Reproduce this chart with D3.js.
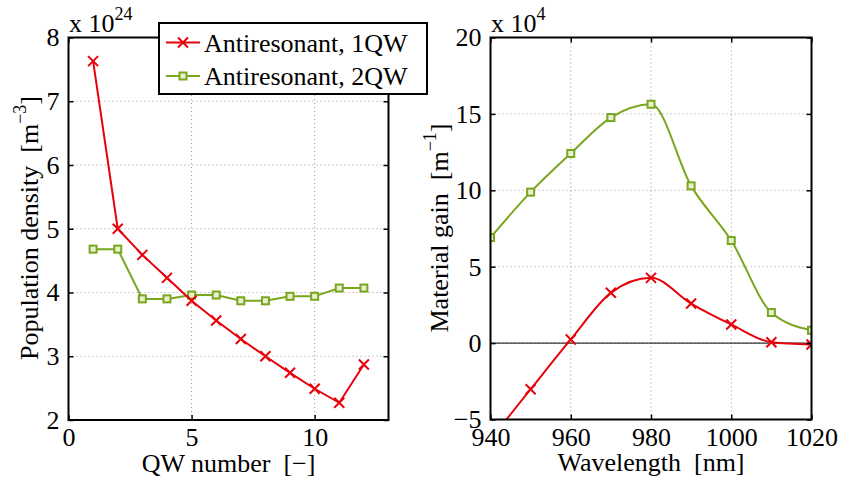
<!DOCTYPE html>
<html>
<head>
<meta charset="utf-8">
<script src="https://cdn.jsdelivr.net/npm/d3@7"></script>
<style>
  body { margin: 0; background: #fff; }
  svg { display: block; font-family: "Liberation Serif", "Times New Roman", serif; }
  svg text { white-space: pre; }
</style>
</head>
<body>
<div id="vis"></div>
<script>
// ── DATA ──────────────────────────────────────────────────────────────────────
const qwNumber     = [1, 2, 3, 4, 5, 6, 7, 8, 9, 10, 11, 12];
const density1QW   = [7.63, 5.00, 4.59, 4.23, 3.87, 3.56, 3.27, 3.00, 2.74, 2.49, 2.27, 2.87];
const density2QW   = [4.68, 4.68, 3.90, 3.90, 3.96, 3.96, 3.87, 3.87, 3.94, 3.94, 4.07, 4.07];

const wavelength   = [940, 950, 960, 970, 980, 990, 1000, 1010, 1020];
const gain1QW      = [-6.3, -3.02, 0.24, 3.29, 4.27, 2.59, 1.22, 0.06, -0.09];
const gain2QW      = [6.91, 9.88, 12.41, 14.76, 15.63, 10.29, 6.71, 2.00, 0.84];

const leftXTicks   = [0, 5, 10];
const leftYTicks   = [2, 3, 4, 5, 6, 7, 8];
const rightXTicks  = [940, 960, 980, 1000, 1020];
const rightYTicks  = [-5, 0, 5, 10, 15, 20];

const seriesNames  = ["Antiresonant, 1QW", "Antiresonant, 2QW"];

// ── STYLE ─────────────────────────────────────────────────────────────────────
const width    = 842;
const height   = 482;
const red      = "#e8000b";
const green    = "#7aa61e";
const fontSize = 26;
const serif    = "Liberation Serif";

const svg = d3.select("#vis").append("svg")
    .attr("width", width)
    .attr("height", height)
    .attr("font-family", serif);

// ── PANEL HELPER ──────────────────────────────────────────────────────────────
function panel(x, y, xTicks, yTicks, id) {
  const [x0, x1] = x.range();
  const [y0, y1] = y.range();
  const g = svg.append("g");

  g.append("clipPath").attr("id", id)
    .append("rect")
    .attr("x", x0).attr("y", y1)
    .attr("width", x1 - x0).attr("height", y0 - y1);

  // dotted grid
  const grid = g.append("g")
    .attr("stroke", "#999")
    .attr("stroke-width", 1)
    .attr("stroke-dasharray", "1,3");
  grid.selectAll(".gx").data(xTicks.filter(t => x(t) > x0 + 1 && x(t) < x1 - 1)).join("line")
    .attr("x1", d => x(d)).attr("x2", d => x(d))
    .attr("y1", y0).attr("y2", y1);
  grid.selectAll(".gy").data(yTicks.filter(t => y(t) < y0 - 1 && y(t) > y1 + 1)).join("line")
    .attr("x1", x0).attr("x2", x1)
    .attr("y1", d => y(d)).attr("y2", d => y(d));

  return g;
}

function styleAxis(a) {
  a.attr("font-family", serif);
  a.select(".domain").remove();
  a.selectAll("text").attr("font-size", fontSize).attr("font-family", serif).attr("fill", "#000");
  a.selectAll("line").attr("stroke", "#000").attr("stroke-width", 1.5);
}

function frame(g, x, y, xTicks, yTicks) {
  const [x0, x1] = x.range();
  const [y0, y1] = y.range();
  const tick = 5;

  // axes with inward ticks, MATLAB style
  g.append("g").attr("transform", `translate(0,${y0})`)
    .call(d3.axisBottom(x).tickValues(xTicks).tickSize(-tick).tickPadding(8).tickFormat(d3.format("d")))
    .call(styleAxis);
  g.append("g").attr("transform", `translate(0,${y1})`)
    .call(d3.axisTop(x).tickValues(xTicks).tickSize(-tick).tickFormat(""))
    .call(styleAxis);
  g.append("g").attr("transform", `translate(${x0},0)`)
    .call(d3.axisLeft(y).tickValues(yTicks).tickSize(-tick).tickPadding(tick + 4).tickFormat(d => d < 0 ? "\u2212" + Math.abs(d) : d))
    .call(styleAxis);
  g.append("g").attr("transform", `translate(${x1},0)`)
    .call(d3.axisRight(y).tickValues(yTicks).tickSize(-tick).tickFormat(""))
    .call(styleAxis);

  g.append("rect")
    .attr("x", x0).attr("y", y1)
    .attr("width", x1 - x0).attr("height", y0 - y1)
    .attr("fill", "none")
    .attr("stroke", "#000")
    .attr("stroke-width", 2);
}

function crossMarks(g, pts, color) {
  const s = 5;
  g.append("g").attr("stroke", color).attr("stroke-width", 2)
    .selectAll("path").data(pts).join("path")
    .attr("d", ([px, py]) => `M${px - s},${py - s}L${px + s},${py + s}M${px - s},${py + s}L${px + s},${py - s}`);
}

function squareMarks(g, pts, color) {
  const s = 3.5;
  g.append("g").attr("stroke", color).attr("stroke-width", 2).attr("fill", "#e8f0d4")
    .selectAll("rect").data(pts).join("rect")
    .attr("x", ([px]) => px - s).attr("y", ([, py]) => py - s)
    .attr("width", 2 * s).attr("height", 2 * s);
}

function exponent(g, x, y, text, sup) {
  const t = g.append("text")
    .attr("x", x).attr("y", y)
    .attr("font-size", fontSize);
  t.append("tspan").text(text);
  t.append("tspan").attr("font-size", 18).attr("dy", -12).text(sup);
}

// ── LEFT PANEL ────────────────────────────────────────────────────────────────
const xL = d3.scaleLinear([0, 13], [68.5, 388.5]);
const yL = d3.scaleLinear([2, 8], [420, 37.5]);
const gL = panel(xL, yL, leftXTicks, leftYTicks, "clipL");

const lineL = d3.line().x(d => xL(d[0])).y(d => yL(d[1]));
const pts1 = qwNumber.map((q, i) => [q, density1QW[i]]);
const pts2 = qwNumber.map((q, i) => [q, density2QW[i]]);

gL.append("path").datum(pts2)
  .attr("d", lineL).attr("fill", "none").attr("stroke", green).attr("stroke-width", 2);
squareMarks(gL, pts2.map(d => [xL(d[0]), yL(d[1])]), green);
gL.append("path").datum(pts1)
  .attr("d", lineL).attr("fill", "none").attr("stroke", red).attr("stroke-width", 2);
crossMarks(gL, pts1.map(d => [xL(d[0]), yL(d[1])]), red);

frame(gL, xL, yL, leftXTicks, leftYTicks);
exponent(gL, 69, 32, "x 10", "24");

gL.append("text")
  .attr("transform", "translate(38,228) rotate(-90)")
  .attr("text-anchor", "middle")
  .attr("font-size", fontSize)
  .call(t => {
    t.append("tspan").text("Population density  [m");
    t.append("tspan").attr("font-size", 18).attr("dy", -12).text("\u22123");
    t.append("tspan").attr("dy", 12).text("]");
  });

gL.append("text")
  .attr("x", 228.5).attr("y", 472)
  .attr("text-anchor", "middle")
  .attr("font-size", fontSize)
  .text("QW number  [\u2212]");

// legend
const legend = svg.append("g");
legend.append("rect")
  .attr("x", 159).attr("y", 23)
  .attr("width", 268).attr("height", 71)
  .attr("fill", "#fff").attr("stroke", "#000").attr("stroke-width", 2);
const legendRows = [
  { name: seriesNames[0], color: red, mark: crossMarks, y: 42.5 },
  { name: seriesNames[1], color: green, mark: squareMarks, y: 76 }
];
legendRows.forEach(r => {
  legend.append("line")
    .attr("x1", 166).attr("x2", 200)
    .attr("y1", r.y).attr("y2", r.y)
    .attr("stroke", r.color).attr("stroke-width", 2);
  r.mark(legend, [[183, r.y]], r.color);
  legend.append("text")
    .attr("x", 204).attr("y", r.y + 9)
    .attr("font-size", fontSize)
    .text(r.name);
});

// ── RIGHT PANEL ───────────────────────────────────────────────────────────────
const xR = d3.scaleLinear([940, 1020], [490.5, 811.5]);
const yR = d3.scaleLinear([-5, 20], [419.5, 37.5]);
const gR = panel(xR, yR, rightXTicks, rightYTicks, "clipR");

// zero line
gR.append("line")
  .attr("x1", xR(940)).attr("x2", xR(1020))
  .attr("y1", yR(0)).attr("y2", yR(0))
  .attr("stroke", "#000").attr("stroke-width", 1);

const lineR = d3.line().curve(d3.curveMonotoneX).x(d => xR(d[0])).y(d => yR(d[1]));
const g1 = wavelength.map((w, i) => [w, gain1QW[i]]);
const g2 = wavelength.map((w, i) => [w, gain2QW[i]]);

const plotR = gR.append("g").attr("clip-path", "url(#clipR)");
plotR.append("path").datum(g2)
  .attr("d", lineR).attr("fill", "none").attr("stroke", green).attr("stroke-width", 2);
squareMarks(plotR, g2.map(d => [xR(d[0]), yR(d[1])]), green);
plotR.append("path").datum(g1)
  .attr("d", lineR).attr("fill", "none").attr("stroke", red).attr("stroke-width", 2);
crossMarks(plotR, g1.filter(d => d[1] >= -5).map(d => [xR(d[0]), yR(d[1])]), red);

frame(gR, xR, yR, rightXTicks, rightYTicks);
exponent(gR, 491, 32, "x 10", "4");

gR.append("text")
  .attr("transform", "translate(448,228) rotate(-90)")
  .attr("text-anchor", "middle")
  .attr("font-size", fontSize)
  .call(t => {
    t.append("tspan").text("Material gain  [m");
    t.append("tspan").attr("font-size", 18).attr("dy", -12).text("\u22121");
    t.append("tspan").attr("dy", 12).text("]");
  });

gR.append("text")
  .attr("x", 651).attr("y", 471)
  .attr("text-anchor", "middle")
  .attr("font-size", fontSize)
  .text("Wavelength  [nm]");
</script>
</body>
</html>
